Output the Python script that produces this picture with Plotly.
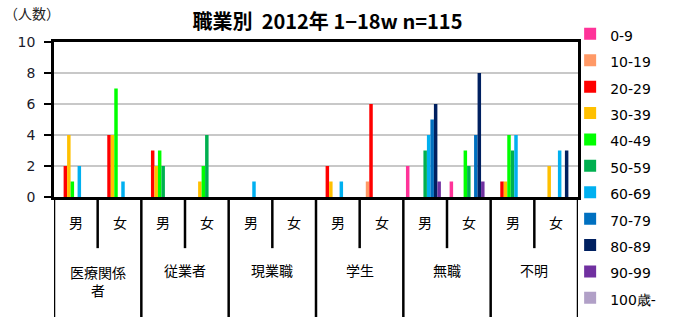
import plotly.graph_objects as go

age_groups = ["0-9", "10-19", "20-29", "30-39", "40-49", "50-59", "60-69",
              "70-79", "80-89", "90-99", "100歳-"]
colors = ["#FF3399", "#FF9966", "#FF0000", "#FFC000", "#00FF00", "#00B050",
          "#00B0F0", "#0070C0", "#002060", "#7030A0", "#B1A0C7"]
occupations = ["医療関係<br>者", "従業者", "現業職", "学生", "無職", "不明"]
sexes = ["男", "女"]

# rows: categories (occupation x sex); columns: age groups
values = [
    [0, 0, 2, 4, 1, 0, 2, 0, 0, 0, 0],   # 医療関係者 男
    [0, 0, 4, 4, 7, 0, 1, 0, 0, 0, 0],   # 医療関係者 女
    [0, 0, 3, 2, 3, 2, 0, 0, 0, 0, 0],   # 従業者 男
    [0, 0, 0, 1, 2, 4, 0, 0, 0, 0, 0],   # 従業者 女
    [0, 0, 0, 0, 0, 0, 1, 0, 0, 0, 0],   # 現業職 男
    [0, 0, 0, 0, 0, 0, 0, 0, 0, 0, 0],   # 現業職 女
    [0, 0, 2, 1, 0, 0, 1, 0, 0, 0, 0],   # 学生 男
    [0, 1, 6, 0, 0, 0, 0, 0, 0, 0, 0],   # 学生 女
    [2, 0, 0, 0, 0, 3, 4, 5, 6, 1, 0],   # 無職 男
    [1, 0, 0, 0, 3, 2, 0, 4, 8, 1, 0],   # 無職 女
    [0, 0, 1, 1, 4, 3, 4, 0, 0, 0, 0],   # 不明 男
    [0, 0, 0, 2, 0, 0, 3, 0, 3, 0, 0],   # 不明 女
]
y_ticks = [0, 2, 4, 6, 8, 10]

FONT = "Noto Sans CJK JP"
n_cat = len(values)
xs = list(range(n_cat))

fig = go.Figure()
for j, (ag, c) in enumerate(zip(age_groups, colors)):
    fig.add_trace(go.Bar(
        x=xs, y=[row[j] for row in values],
        name='<span style="font-size:14px">' + ag + '</span>',
        marker=dict(color=c, line=dict(width=0)),
    ))

shapes = []
annotations = []
short_bot = -0.33
long_bot = -0.80
for b in range(n_cat + 1):
    xb = b - 0.5
    is_group = (b % 2 == 0)
    shapes.append(dict(type="line", xref="x", yref="paper", x0=xb, x1=xb,
                       y0=0, y1=long_bot if is_group else short_bot,
                       line=dict(color="black", width=2.5)))
for i in xs:
    annotations.append(dict(x=i, y=-0.16, xref="x", yref="paper",
                            text=sexes[i % 2], showarrow=False,
                            yanchor="middle",
                            font=dict(family=FONT, size=14, color="black")))
for g, occ in enumerate(occupations):
    multiline = "<br>" in occ
    annotations.append(dict(x=2 * g + 0.5, y=-0.545 if multiline else -0.47,
                            xref="x", yref="paper", text=occ, showarrow=False,
                            yanchor="middle",
                            font=dict(family=FONT, size=14, color="black")))
annotations.append(dict(x=0, y=1, xref="paper", yref="paper", text="（人数）",
                        xanchor="left", yanchor="middle", xshift=-52, yshift=29,
                        showarrow=False,
                        font=dict(family=FONT, size=14, color="#222222")))

fig.update_layout(
    width=676, height=317,
    margin=dict(l=54, r=98, t=42, b=120),
    paper_bgcolor="white", plot_bgcolor="white",
    barmode="group", bargap=0.12, bargroupgap=0,
    title=dict(text="<b>職業別  2012年 1−18w n=115</b>", x=0.4845, xanchor="center",
               y=0.93, yanchor="middle",
               font=dict(family=FONT, size=20, color="black")),
    font=dict(family=FONT, color="black"),
    xaxis=dict(range=[-0.5, n_cat - 0.5], showticklabels=False, ticks="",
               showgrid=False, zeroline=False, showline=True,
               linecolor="black", linewidth=2.5, mirror=True, fixedrange=True),
    yaxis=dict(range=[0, 10], tickvals=y_ticks, ticks="outside", ticklen=7,
               tickwidth=2, tickcolor="black", showgrid=True,
               gridcolor="#C8C8C8", gridwidth=2, zeroline=False,
               showline=True, linecolor="black", linewidth=2.5, mirror=True,
               ticklabelstandoff=6, fixedrange=True,
               tickfont=dict(family="DejaVu Sans", size=14, color="#1a1a2a")),
    legend=dict(x=0.985, xanchor="left", y=1.17, yanchor="top",
                font=dict(family="DejaVu Sans", size=18, color="black"),
                bgcolor="rgba(0,0,0,0)", borderwidth=0, traceorder="normal",
                maxheight=317),
    shapes=shapes, annotations=annotations,
    showlegend=True,
)

fig.write_html("out.html", config={"displayModeBar": False},
               post_script="document.body.style.margin='0';document.body.style.padding='0';")
